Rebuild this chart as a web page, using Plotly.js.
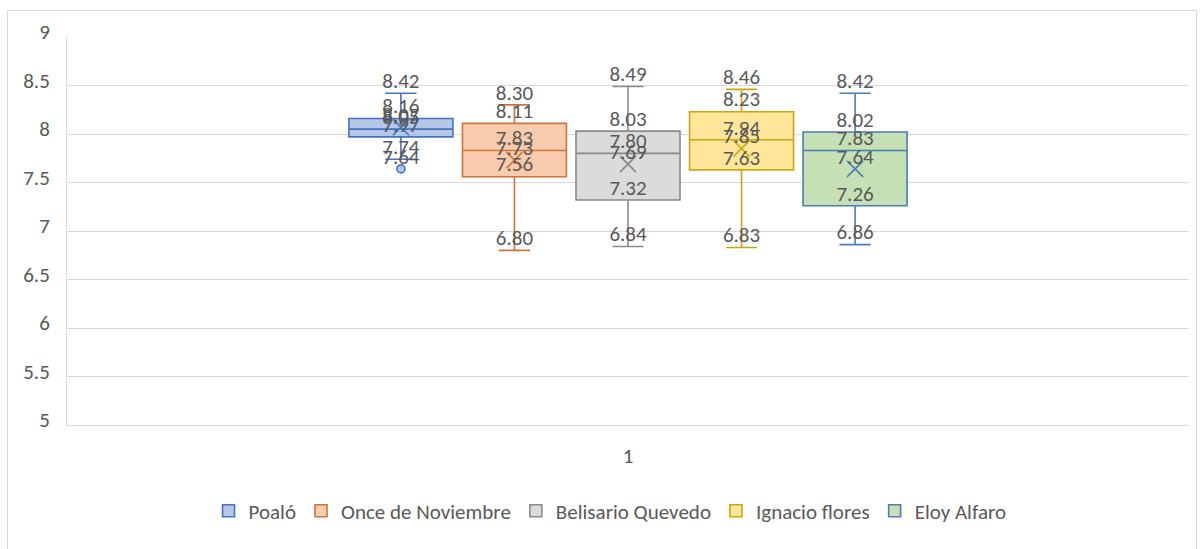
<!DOCTYPE html>
<html>
<head>
<meta charset="utf-8">
<script src="https://cdn.plot.ly/plotly-3.0.1.min.js"></script>
<style>
html,body{margin:0;padding:0;background:#fff;}
#frame{position:absolute;left:7px;top:10px;width:1190px;height:545px;border:1px solid #d9d9d9;box-sizing:border-box;}
#chart{position:absolute;left:0;top:0;width:1202px;height:549px;}
</style>
</head>
<body>
<div id="frame"></div>
<div id="chart"></div>
<script>
const categories = ['1'];
const seriesNames = ['Poaló', 'Once de Noviembre', 'Belisario Quevedo', 'Ignacio flores', 'Eloy Alfaro'];
const maxVals    = [8.42, 8.30, 8.49, 8.46, 8.42];
const q3Vals     = [8.16, 8.11, 8.03, 8.23, 8.02];
const medianVals = [8.05, 7.83, 7.80, 7.94, 7.83];
const meanVals   = [8.07, 7.73, 7.69, 7.85, 7.64];
const q1Vals     = [7.97, 7.56, 7.32, 7.63, 7.26];
const minVals    = [7.74, 6.80, 6.84, 6.83, 6.86];
const outlierVals = [[7.64], [], [], [], []];

const fillColors = ['#b4c7e7', '#f8cbad', '#dbdbdb', '#ffe699', '#c5e0b4'];
const lineColors = ['#4472c4', '#d0733a', '#8a8a8a', '#d1a30c', '#4a7eb9'];

const FONT = 'Carlito, Calibri, Lato, sans-serif';
const GREY = '#595959';
const FS = 21;

const traces = [];
seriesNames.forEach((name, i) => {
  traces.push({
    type: 'box', name: name, x: [categories[0]],
    q1: [q1Vals[i]], median: [medianVals[i]], q3: [q3Vals[i]],
    lowerfence: [minVals[i]], upperfence: [maxVals[i]],
    boxpoints: false, whiskerwidth: 0.3,
    fillcolor: fillColors[i], line: {color: lineColors[i], width: 1.6},
    offsetgroup: name, alignmentgroup: 'a', hoverinfo: 'skip', showlegend: true
  });
});
seriesNames.forEach((name, i) => {
  traces.push({
    type: 'scatter', mode: 'markers', x: [categories[0]], y: [meanVals[i]],
    marker: {symbol: 'x-thin-open', size: 16, line: {color: lineColors[i], width: 1.6}, color: lineColors[i]},
    offsetgroup: name, alignmentgroup: 'a', showlegend: false, hoverinfo: 'skip'
  });
  if (outlierVals[i].length) {
    traces.push({
      type: 'scatter', mode: 'markers', x: outlierVals[i].map(() => categories[0]), y: outlierVals[i],
      marker: {symbol: 'circle', size: 8, color: fillColors[i], line: {color: lineColors[i], width: 1.6}},
      offsetgroup: name, alignmentgroup: 'a', showlegend: false, hoverinfo: 'skip'
    });
  }
  const labVals = [maxVals[i], q3Vals[i], medianVals[i], meanVals[i], q1Vals[i], minVals[i]].concat(outlierVals[i]);
  traces.push({
    type: 'scatter', mode: 'text', x: labVals.map(() => categories[0]), y: labVals,
    text: labVals.map(v => v.toFixed(2)), textposition: 'top center',
    textfont: {family: FONT, size: FS, color: GREY},
    offsetgroup: name, alignmentgroup: 'a', showlegend: false, hoverinfo: 'skip', cliponaxis: false
  });
});

const layout = {
  width: 1202, height: 549,
  margin: {l: 67, r: 13, t: 37, b: 124},
  paper_bgcolor: 'rgba(0,0,0,0)', plot_bgcolor: 'rgba(0,0,0,0)',
  font: {family: FONT, size: FS, color: GREY},
  boxmode: 'group', boxgap: 0.494, boxgroupgap: 0.084,
  scattermode: 'group', scattergap: 0.494,
  xaxis: {type: 'category', range: [-0.5, 0.5], showgrid: false, zeroline: false,
          showline: true, linecolor: '#d9d9d9', linewidth: 1, ticks: '',
          ticklabelstandoff: 12, tickfont: {family: FONT, size: FS, color: GREY}},
  yaxis: {range: [5, 9], dtick: 0.5, tick0: 5, showgrid: true, gridcolor: '#d9d9d9', gridwidth: 1,
          zeroline: false, showline: true, linecolor: '#d9d9d9', linewidth: 1, ticks: '',
          ticklabelstandoff: 12, ticklabelshift: -5, tickfont: {family: FONT, size: FS, color: GREY}},
  showlegend: true,
  legend: {orientation: 'h', x: 0.484, xanchor: 'center', y: -0.222, yanchor: 'middle',
           font: {family: FONT, size: FS, color: GREY}, bgcolor: 'rgba(0,0,0,0)', itemclick: false}
};

Plotly.newPlot('chart', traces, layout, {displayModeBar: false, staticPlot: true});
</script>
</body>
</html>
